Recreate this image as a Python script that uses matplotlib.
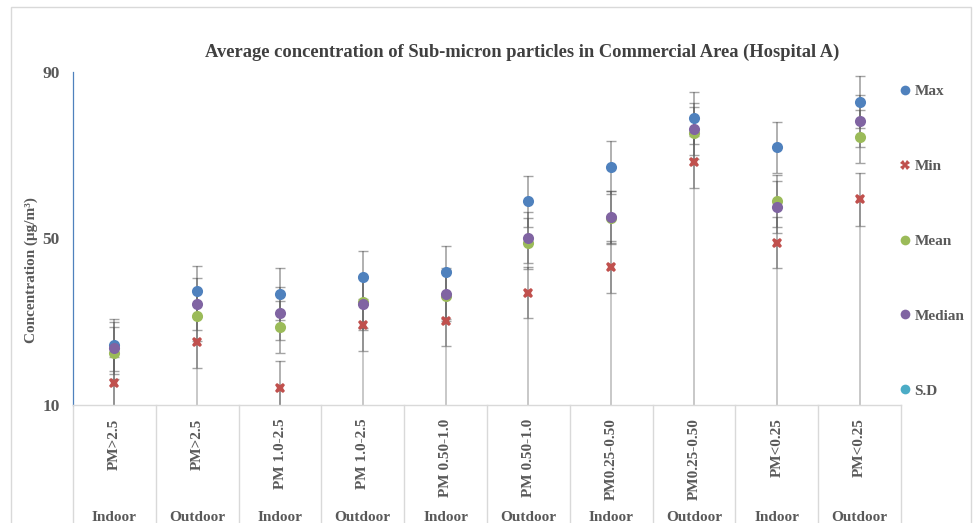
import matplotlib
matplotlib.use("Agg")
import matplotlib.pyplot as plt
from matplotlib.lines import Line2D
from matplotlib.patches import Rectangle
import numpy as np

# ---- data ----
categories = ["PM>2.5", "PM>2.5", "PM 1.0-2.5", "PM 1.0-2.5", "PM 0.50-1.0",
              "PM 0.50-1.0", "PM0.25-0.50", "PM0.25-0.50", "PM<0.25", "PM<0.25"]
locations = ["Indoor", "Outdoor"] * 5
max_vals = [24.4, 37.3, 36.7, 40.8, 42.0, 58.9, 67.1, 79.0, 71.9, 82.8]
min_vals = [15.3, 25.2, 14.2, 29.2, 30.2, 37.0, 43.2, 68.4, 49.0, 59.4]
mean_vals = [22.5, 31.5, 28.8, 34.7, 36.3, 48.8, 55.0, 75.4, 59.0, 74.5]
median_vals = [23.7, 34.2, 32.0, 34.3, 36.7, 50.2, 55.2, 76.3, 57.6, 78.2]
sd_vals = [6.3, 6.2, 6.3, 6.2, 6.1, 6.2, 6.3, 6.2, 6.2, 6.3]

yticks = [10, 50, 90]

# ---- style ----
serif = ["Liberation Serif", "DejaVu Serif"]
txt = "#595959"
c_max, c_min, c_mean, c_med, c_sd = "#4F81BD", "#C0504D", "#9BBB59", "#8064A2", "#4BACC6"

fig = plt.figure(figsize=(9.73, 5.23), dpi=100)
fig.patches.append(Rectangle((11 / 973, -0.1), 960 / 973, 1.1 - 7 / 523,
                             transform=fig.transFigure, fill=False,
                             edgecolor="#d9d9d9", linewidth=1.0))
ax = fig.add_axes([73 / 973, 1 - 405 / 523, (901 - 73) / 973, (405 - 72) / 523])

x = np.arange(len(categories))

# light lines from axis bottom up to the points (S.D series bars)
ax.vlines(x, 0, min_vals, color="#bfbfbf", linewidth=1.2, zorder=1)

series = [(max_vals, c_max, "o", "Max"), (min_vals, c_min, "X", "Min"),
          (mean_vals, c_mean, "o", "Mean"), (median_vals, c_med, "o", "Median")]
for vals, col, mk, lab in series:
    ax.errorbar(x, vals, yerr=sd_vals, fmt="none", ecolor="#595959", alpha=0.55,
                elinewidth=1.2, capsize=3.5, capthick=1.0, zorder=2)
for vals, col, mk, lab in series:
    ax.plot(x, vals, linestyle="none", marker=mk, color=col,
            markersize=8 if mk == "o" else 7.5, markeredgewidth=0, zorder=3)

ax.set_xlim(-0.5, len(categories) - 0.5)
ax.set_ylim(10, 90)
ax.set_yticks(yticks)
ax.set_yticklabels([str(t) for t in yticks], fontfamily=serif, fontweight="bold",
                   fontsize=12.5, color=txt)
ax.tick_params(axis="y", length=0, pad=9.5)
ax.set_xticks([])
for s in ["top", "right"]:
    ax.spines[s].set_visible(False)
ax.spines["left"].set_color("#4F81BD")
ax.spines["left"].set_linewidth(0.9)
ax.spines["bottom"].set_color("#d9d9d9")
ax.spines["bottom"].set_linewidth(1.0)

# category separators (multi-level axis)
for b in np.arange(-0.5, len(categories), 1.0):
    ax.plot([b, b], [0, -0.36], transform=ax.get_xaxis_transform(),
            color="#d9d9d9", linewidth=1.0, clip_on=False)

trans = ax.get_xaxis_transform()
for i, (c, loc) in enumerate(zip(categories, locations)):
    ax.text(i, -0.04, c, rotation=90, ha="center", va="top", transform=trans,
            fontfamily=serif, fontweight="bold", fontsize=11, color=txt)
    ax.text(i, -0.337, loc, ha="center", va="center", transform=trans,
            fontfamily=serif, fontweight="bold", fontsize=11, color=txt)

ax.set_ylabel("Concentration (μg/m³)", fontfamily=serif, fontweight="bold",
              fontsize=11, color=txt)
ax.yaxis.set_label_coords(-35 / 828, (405 - 270) / 333)

fig.text(522 / 973, 1 - 52 / 523,
         "Average concentration of Sub-micron particles in Commercial Area (Hospital A)",
         ha="center", va="center", fontfamily=serif, fontweight="bold",
         fontsize=13.3, color="#404040")

handles = [Line2D([], [], linestyle="none", marker="o", color=c_max, markersize=7, markeredgewidth=0),
           Line2D([], [], linestyle="none", marker="X", color=c_min, markersize=7, markeredgewidth=0),
           Line2D([], [], linestyle="none", marker="o", color=c_mean, markersize=7, markeredgewidth=0),
           Line2D([], [], linestyle="none", marker="o", color=c_med, markersize=7, markeredgewidth=0),
           Line2D([], [], linestyle="none", marker="o", color=c_sd, markersize=7, markeredgewidth=0)]
leg = fig.legend(handles, ["Max", "Min", "Mean", "Median", "S.D"],
                 loc="upper left", bbox_to_anchor=(893 / 973, 1 - 77 / 523),
                 frameon=False, handlelength=0.6, handletextpad=0.3,
                 labelspacing=4.0, borderpad=0,
                 prop={"family": serif, "weight": "bold", "size": 11})
for t in leg.get_texts():
    t.set_color(txt)

fig.savefig("out.png", dpi=100)
